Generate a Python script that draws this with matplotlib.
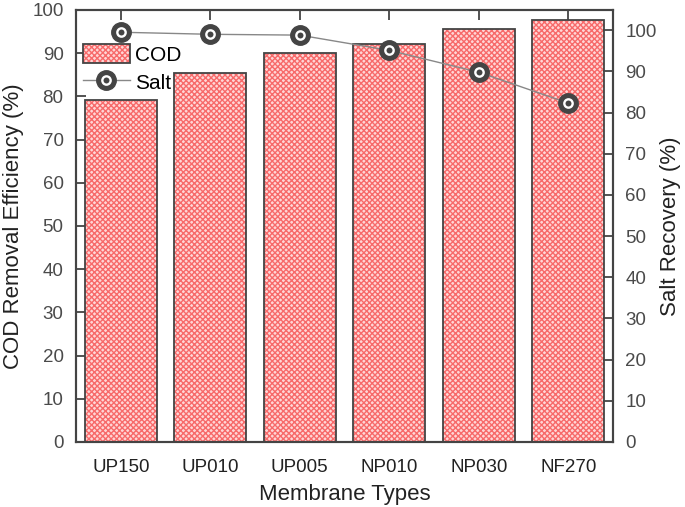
import numpy as np
import matplotlib.pyplot as plt
from matplotlib.patches import Patch
from matplotlib.lines import Line2D

plt.rcParams["font.family"] = ["Liberation Sans", "DejaVu Sans"]
plt.rcParams["hatch.linewidth"] = 1.0

membranes = ["UP150", "UP010", "UP005", "NP010", "NP030", "NF270"]
cod_removal = [79.2, 85.4, 90.0, 92.1, 95.6, 97.7]
salt_recovery = [99.5, 99.0, 98.8, 95.1, 89.8, 82.3]

dark = "#444444"
fill_bg = "#ffd6d6"
fill_hatch = "#f76a6a"
x = np.arange(len(membranes))

fig = plt.figure(figsize=(6.85, 5.07), dpi=100)
ax = fig.add_axes([76 / 685, 65 / 507, 537 / 685, 432 / 507])

# bars: hatched fill first, then outline on top
ax.bar(x, cod_removal, width=0.8, color=fill_bg, edgecolor=fill_hatch,
       hatch="xxxxxx", linewidth=0, zorder=2)
ax.bar(x, cod_removal, width=0.8, fill=False, edgecolor=dark, linewidth=1.3, zorder=3)

ax.set_xlim(-0.5, 5.5)
ax.set_ylim(0, 100)
ax.set_yticks(np.arange(0, 101, 10))
ax.set_xticks(x)
ax.set_xticklabels(membranes)
ax.set_xlabel("Membrane Types", fontsize=16, color="#222222", labelpad=6)
ax.set_ylabel("COD Removal Efficiency (%)", fontsize=16, color="#222222", labelpad=6)
ax.tick_params(direction="in", length=7, width=1.3, colors=dark, labelsize=13.5,
               top=True, labelcolor="#4a4a4a", pad=9)
ax.tick_params(axis="x", labelcolor="#222222", pad=12)

ax2 = ax.twinx()
ax2.set_ylim(0, 104.9)
ax2.set_yticks(np.arange(0, 101, 10))
ax2.plot(x, salt_recovery, color="#888888", linewidth=1, zorder=4)
ax2.plot(x, salt_recovery, linestyle="none", marker="o", markersize=14,
         markerfacecolor=dark, markeredgecolor=dark, zorder=5)
ax2.plot(x, salt_recovery, linestyle="none", marker="o", markersize=6,
         markerfacecolor=dark, markeredgecolor="white", markeredgewidth=1.7, zorder=6)
ax2.set_ylabel("Salt Recovery (%)", fontsize=16, color="#222222", labelpad=2)
ax2.tick_params(direction="in", length=7, width=1.3, colors=dark, labelsize=13.5,
                labelcolor="#4a4a4a", pad=9)

for a in (ax, ax2):
    for s in a.spines.values():
        s.set_color(dark)
        s.set_linewidth(1.5)

# legend
h_cod = (Patch(facecolor=fill_bg, edgecolor=fill_hatch, hatch="xxxxxx", linewidth=0),
         Patch(fill=False, edgecolor=dark, linewidth=1.3))
h_salt = (Line2D([], [], color="#888888", linewidth=1, marker="o", markersize=14,
                 markerfacecolor=dark, markeredgecolor=dark),
          Line2D([], [], linestyle="none", marker="o", markersize=6,
                 markerfacecolor=dark, markeredgecolor="white", markeredgewidth=1.7))
ax.legend([h_cod, h_salt], ["COD", "Salt"], loc="upper left", frameon=False,
          fontsize=15, bbox_to_anchor=(-0.015, 0.955), handlelength=2.3,
          handleheight=1.05, handletextpad=0.2, labelspacing=0.35,
          borderaxespad=0.3)

fig.savefig("out.png", dpi=100)
